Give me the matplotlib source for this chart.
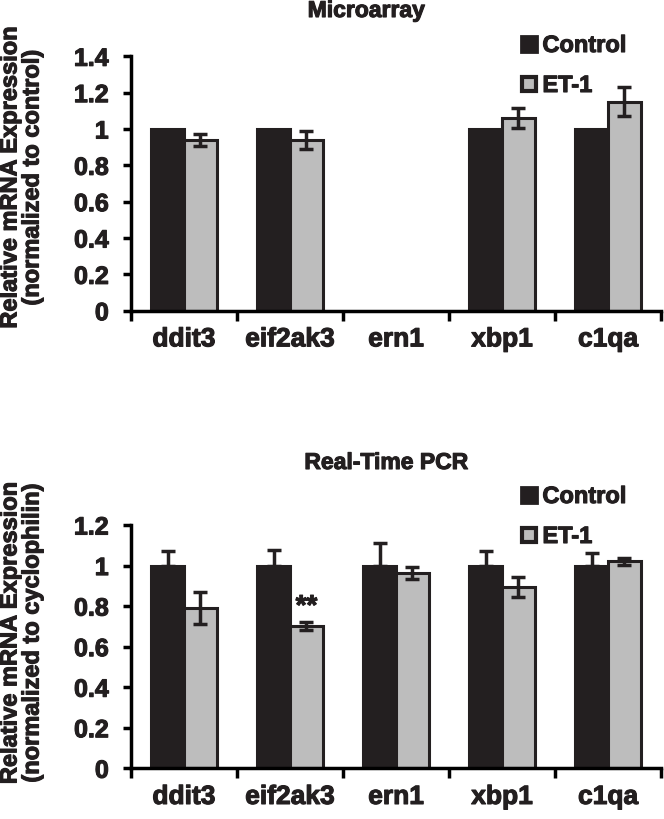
import numpy as np
import matplotlib
matplotlib.use('Agg')
import matplotlib.pyplot as plt
import matplotlib.patheffects as pe
from matplotlib.lines import Line2D
from matplotlib.text import Text

plt.rcParams['font.family'] = ['Liberation Sans', 'DejaVu Sans']
plt.rcParams['font.weight'] = 'bold'

genes = ['ddit3', 'eif2ak3', 'ern1', 'xbp1', 'c1qa']

# microarray (ern1 not on the array)
micro_control = [1.0, 1.0, np.nan, 1.0, 1.0]
micro_et1 = [0.94, 0.94, np.nan, 1.06, 1.15]
micro_et1_err = [0.035, 0.05, np.nan, 0.055, 0.08]

# real-time PCR
pcr_control = [1.0, 1.0, 1.0, 1.0, 1.0]
pcr_control_err = [0.07, 0.075, 0.11, 0.07, 0.06]
pcr_et1 = [0.79, 0.70, 0.965, 0.895, 1.02]
pcr_et1_err = [0.08, 0.02, 0.03, 0.05, 0.015]

black = '#231f20'
grey = '#bdbdbd'
W, H = 664, 820

fig = plt.figure(figsize=(6.64, 8.2), dpi=100)
ax1 = fig.add_axes([131 / W, 1 - 311.7 / H, 530 / W, 254.4 / H])
ax2 = fig.add_axes([131 / W, 1 - 769.3 / H, 530 / W, 243.3 / H])

x = np.arange(len(genes)) + 0.5
bw = 0.31


def draw(ax, ctrl, ctrl_err, et1, et1_err, ymax):
    ax.bar(x - bw / 2, ctrl, bw, color=black, edgecolor=black, linewidth=2.2, zorder=2)
    ax.bar(x + bw / 2, et1, bw, color=grey, edgecolor=black, linewidth=2.2, zorder=2)
    if ctrl_err is not None:
        ax.errorbar(x - bw / 2, ctrl, yerr=[np.zeros(len(ctrl)), ctrl_err], fmt='none',
                    ecolor=black, elinewidth=2.5, capsize=5, capthick=2.5, zorder=3)
    ax.errorbar(x + bw / 2, et1, yerr=et1_err, fmt='none',
                ecolor=black, elinewidth=2.5, capsize=5, capthick=2.5, zorder=3)
    ax.set_xlim(0, 5)
    ax.set_ylim(0, ymax)
    ax.set_yticks(np.arange(0, ymax + 0.01, 0.2))
    ax.set_yticklabels(['%g' % round(v, 1) for v in np.arange(0, ymax + 0.01, 0.2)])
    ax.set_xticks(np.arange(0, 6))
    ax.set_xticklabels([])
    ax.set_xticks(x, minor=True)
    ax.set_xticklabels(genes, minor=True, fontsize=19, fontweight='bold')
    ax.tick_params(axis='x', which='major', direction='out', length=7, width=2.5)
    ax.tick_params(axis='x', which='minor', length=0, pad=12)
    ax.tick_params(axis='y', direction='out', length=6, width=2.5, pad=10, labelsize=18)
    for s in ['top', 'right']:
        ax.spines[s].set_visible(False)
    for s in ['left', 'bottom']:
        ax.spines[s].set_linewidth(2.5)
        ax.spines[s].set_zorder(4)
    handles = [Line2D([], [], ls='none', marker='s', ms=11, mfc=black, mec=black, mew=2),
               Line2D([], [], ls='none', marker='s', ms=10, mfc=grey, mec=black, mew=3)]
    return handles


h = draw(ax1, micro_control, None, micro_et1, micro_et1_err, 1.4)
fig.legend(h, ['Control', 'ET-1'], loc='upper left', bbox_to_anchor=(520 / W, 1 - 35 / H),
           frameon=False, fontsize=17, handlelength=0.8, handletextpad=0.15,
           labelspacing=0.72, borderpad=0, borderaxespad=0)

h = draw(ax2, pcr_control, pcr_control_err, pcr_et1, pcr_et1_err, 1.2)
fig.legend(h, ['Control', 'ET-1'], loc='upper left', bbox_to_anchor=(520 / W, 1 - 486 / H),
           frameon=False, fontsize=17, handlelength=0.8, handletextpad=0.15,
           labelspacing=0.72, borderpad=0, borderaxespad=0)

# significance mark
ax2.text(x[1] + bw / 2, 0.76, '**', ha='center', va='baseline', fontsize=20, fontweight='bold')

fig.text(366 / W, 1 - 18 / H, 'Microarray', ha='center', va='baseline', fontsize=16.5, fontweight='bold')
fig.text(386 / W, 1 - 470 / H, 'Real-Time PCR', ha='center', va='baseline', fontsize=16.5, fontweight='bold')

fig.text(21 / W, 1 - 178.5 / H, 'Relative mRNA Expression\n(normalized to control)',
         rotation=90, ha='center', va='center', multialignment='center',
         fontsize=17, fontweight='bold', linespacing=0.95)
fig.text(21 / W, 1 - 634 / H, 'Relative mRNA Expression\n(normalized to cyclophilin)',
         rotation=90, ha='center', va='center', multialignment='center',
         fontsize=17, fontweight='bold', linespacing=0.95)

# printed text in the figure is heavier than plain bold
for t in fig.findobj(Text):
    t.set_path_effects([pe.withStroke(linewidth=0.8, foreground=black)])
    t.set_color(black)

fig.savefig('out.png', dpi=100)
